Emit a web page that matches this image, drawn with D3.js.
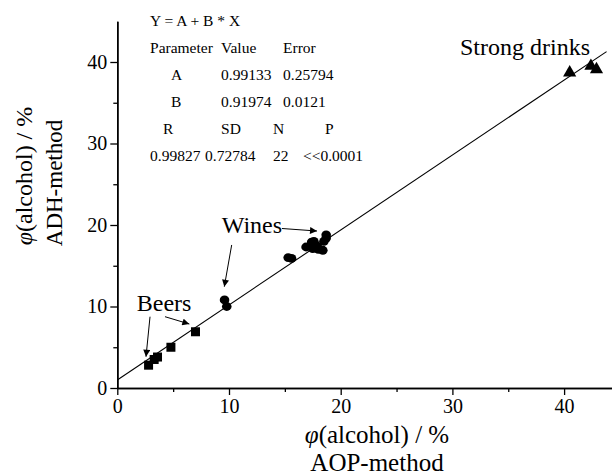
<!DOCTYPE html>
<html>
<head>
<meta charset="utf-8">
<script src="https://cdn.jsdelivr.net/npm/d3@7"></script>
<style>
body { margin: 0; background: #fff; }
svg text { font-family: "Times New Roman", "Liberation Serif", Tinos, "DejaVu Serif", serif !important; fill: #000; }
</style>
</head>
<body>
<div id="chart"></div>
<script>
// data (x = AOP-method, y = ADH-method)
var beers_x = [2.8, 3.3, 3.6, 4.8, 7.0]
var beers_y = [2.8, 3.5, 3.8, 5.0, 6.9]
var wines_x = [9.6, 9.8, 15.3, 15.6, 16.9, 17.4, 17.6, 17.5, 17.9, 18.0, 18.4, 18.5, 18.7, 18.7]
var wines_y = [10.8, 10.0, 16.0, 15.9, 17.3, 17.9, 18.0, 17.1, 17.4, 17.0, 16.9, 18.0, 18.4, 18.8]
var strong_x = [40.5, 42.4, 42.9]
var strong_y = [38.7, 39.5, 39.1]
var fit_A = 0.99133, fit_B = 0.91974
var x_ticks = [0, 10, 20, 30, 40]
var y_ticks = [0, 10, 20, 30, 40]

var stats_rows = [
  [["Y = A + B * X", 0]],
  [["Parameter", 0], ["Value", 71], ["Error", 133]],
  [["A", 21], ["0.99133", 71], ["0.25794", 133]],
  [["B", 21], ["0.91974", 71], ["0.0121", 133]],
  [["R", 13], ["SD", 71], ["N", 123], ["P", 175]],
  [["0.99827", 0], ["0.72784", 55], ["22", 123], ["<<0.0001", 153]]
]

var W = 612, H = 476
var x0 = 117.3, y0 = 388

var svg = d3.select("#chart").append("svg")
  .attr("width", W).attr("height", H)

var xScale = d3.scaleLinear().domain([0, 44.5]).range([x0, x0 + 44.5 * 11.17])
var yScale = d3.scaleLinear().domain([0, 45]).range([y0, y0 - 45 * 8.15])

// axes
var xAxis = d3.axisBottom(xScale).tickValues(x_ticks).tickSize(7).tickSizeOuter(0).tickPadding(4)
var xMinor = d3.axisBottom(xScale).tickValues(d3.range(5, 45, 10)).tickSize(4).tickSizeOuter(0).tickFormat("")
var yAxis = d3.axisLeft(yScale).tickValues(y_ticks).tickSize(7).tickSizeOuter(0).tickPadding(3)
var yMinor = d3.axisLeft(yScale).tickValues(d3.range(5, 45, 10)).tickSize(4).tickSizeOuter(0).tickFormat("")

function styleAxis(g) {
  g.attr("font-family", null)
  g.select(".domain").attr("stroke", "#000").attr("stroke-width", 1.5)
  g.selectAll(".tick line").attr("stroke", "#000").attr("stroke-width", 1.3)
  g.selectAll(".tick text").style("font-size", "20px").attr("fill", "#000")
}

svg.append("g").attr("transform", "translate(0," + y0 + ")").call(xMinor).call(styleAxis)
svg.append("g").attr("transform", "translate(0," + y0 + ")").call(xAxis).call(styleAxis)
svg.append("g").attr("transform", "translate(" + x0 + ",0)").call(yMinor).call(styleAxis)
svg.append("g").attr("transform", "translate(" + x0 + ",0)").call(yAxis).call(styleAxis)

// regression line
var fit_end = 43.8
svg.append("line")
  .attr("x1", xScale(0)).attr("y1", yScale(fit_A))
  .attr("x2", xScale(fit_end)).attr("y2", yScale(fit_A + fit_B * fit_end))
  .attr("stroke", "#000").attr("stroke-width", 1.1)

// markers
svg.selectAll(".beer").data(d3.range(beers_x.length)).enter().append("rect")
  .attr("x", function(i){ return xScale(beers_x[i]) - 4.5 })
  .attr("y", function(i){ return yScale(beers_y[i]) - 4.5 })
  .attr("width", 9).attr("height", 9).attr("fill", "#000")

svg.selectAll(".wine").data(d3.range(wines_x.length)).enter().append("ellipse")
  .attr("cx", function(i){ return xScale(wines_x[i]) })
  .attr("cy", function(i){ return yScale(wines_y[i]) })
  .attr("rx", 4.8).attr("ry", 4.4).attr("fill", "#000")

var tri = d3.symbol().type(d3.symbolTriangle).size(75)
svg.selectAll(".strong").data(d3.range(strong_x.length)).enter().append("path")
  .attr("d", tri)
  .attr("transform", function(i){ return "translate(" + xScale(strong_x[i]) + "," + yScale(strong_y[i]) + ")" })
  .attr("fill", "#000")

// annotations
svg.append("defs").append("marker")
  .attr("id", "arr").attr("viewBox", "0 0 10 10").attr("refX", 10).attr("refY", 5)
  .attr("markerWidth", 9).attr("markerHeight", 7).attr("markerUnits", "userSpaceOnUse")
  .attr("orient", "auto")
  .append("path").attr("d", "M0,0 L10,5 L0,10 Z").attr("fill", "#000")

var labels = [
  ["Beers", 1.74, 9.45],
  ["Wines", 9.35, 18.98],
  ["Strong drinks", 30.68, 40.86]
]
var arrows = [
  [2.93, 8.75, 2.57, 3.84],
  [4.27, 8.75, 6.45, 7.85],
  [10.24, 17.55, 9.58, 12.43],
  [14.74, 19.57, 17.88, 19.26]
]

svg.selectAll(".lab").data(labels).enter().append("text")
  .attr("x", function(d){ return xScale(d[1]) })
  .attr("y", function(d){ return yScale(d[2]) })
  .style("font-size", "24px")
  .text(function(d){ return d[0] })

svg.selectAll(".arrow").data(arrows).enter().append("line")
  .attr("x1", function(d){ return xScale(d[0]) })
  .attr("y1", function(d){ return yScale(d[1]) })
  .attr("x2", function(d){ return xScale(d[2]) })
  .attr("y2", function(d){ return yScale(d[3]) })
  .attr("stroke", "#000").attr("stroke-width", 1)
  .attr("marker-end", "url(#arr)")

// fit statistics block
var sx = xScale(2.93), sy = yScale(44.42)
stats_rows.forEach(function(row, r) {
  row.forEach(function(cell) {
    svg.append("text")
      .attr("x", sx + cell[1]).attr("y", sy + r * 27.1)
      .style("font-size", "15.5px")
      .text(cell[0])
  })
})

// axis titles
var xt = svg.append("text").attr("x", 377).attr("y", 443)
  .attr("text-anchor", "middle").style("font-size", "25px")
xt.append("tspan").style("font-style", "italic").text("φ")
xt.append("tspan").text("(alcohol) / %")
svg.append("text").attr("x", 377).attr("y", 471)
  .attr("text-anchor", "middle").style("font-size", "25px").text("AOP-method")

var yt = svg.append("text").attr("transform", "translate(32,176) rotate(-90)")
  .attr("text-anchor", "middle").style("font-size", "24px")
yt.append("tspan").style("font-style", "italic").text("φ")
yt.append("tspan").text("(alcohol) / %")
svg.append("text").attr("transform", "translate(62,183) rotate(-90)")
  .attr("text-anchor", "middle").style("font-size", "23px").text("ADH-method")
</script>
</body>
</html>
